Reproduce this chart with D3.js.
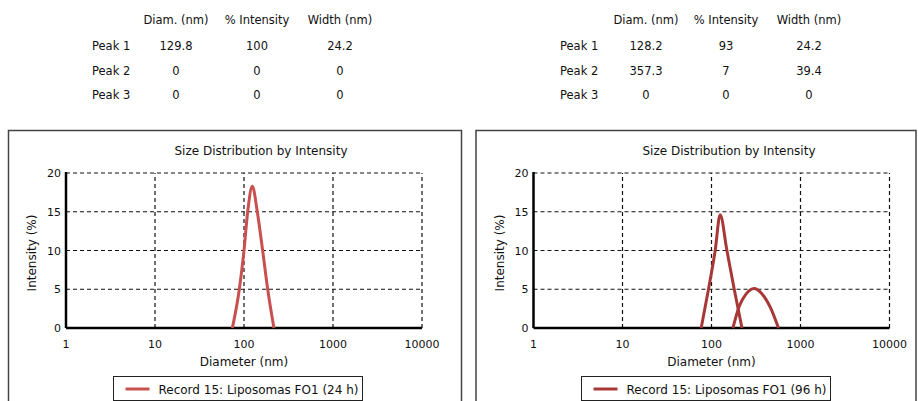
<!DOCTYPE html>
<meta charset="utf-8">
<style>
body { margin: 0; background: #fff; }
text { font-family: "DejaVu Sans", Verdana, sans-serif; fill: #111; }
</style>
<body>
<script src="https://d3js.org/d3.v7.min.js"></script>
<script>

var width = 918, height = 401;

// peak tables
var tableCols = ["Diam. (nm)", "% Intensity", "Width (nm)"];
var tableRows = ["Peak 1", "Peak 2", "Peak 3"];
var table24 = [["129.8", "100", "24.2"], ["0", "0", "0"], ["0", "0", "0"]];
var table96 = [["128.2", "93", "24.2"], ["357.3", "7", "39.4"], ["0", "0", "0"]];

// axis ticks
var xTicks = [1, 10, 100, 1000, 10000];
var yTicks = [0, 5, 10, 15, 20];

// curves: [diameter nm, intensity %]
var curve24 = [[74, 0], [88.6, 5], [100, 10], [110, 15], [124, 18.3], [141, 15], [162, 10], [184.6, 5], [217, 0]];
var curve96a = [[76.6, 0], [92.5, 5], [110, 10], [125, 14.6], [149, 10], [180, 5], [220, 0]];
var curve96b = [[174, 0], [205, 2.8], [245, 4.4], [301, 5.1], [370, 4.4], [457, 2.7], [566, 0]];

var legend24 = "Record 15: Liposomas FO1 (24 h)";
var legend96 = "Record 15: Liposomas FO1 (96 h)";

var svg = d3.select("body").append("svg")
    .attr("width", width)
    .attr("height", height);

function drawTable(x0, labelX, colX, rows) {
  var g = svg.append("g").style("font-size", "11.5px");
  tableCols.forEach(function(c, i) {
    g.append("text").attr("x", colX[i]).attr("y", 24)
      .attr("text-anchor", "middle").text(c);
  });
  tableRows.forEach(function(r, j) {
    var y = 50 + j * 24.5;
    g.append("text").attr("x", labelX).attr("y", y).text(r);
    rows[j].forEach(function(v, i) {
      g.append("text").attr("x", colX[i]).attr("y", y)
        .attr("text-anchor", "middle").text(v);
    });
  });
}

drawTable(0, 92, [176, 257, 340], table24);
drawTable(460, 560, [646, 726, 809], table96);

function drawPanel(opt) {
  // frame
  svg.append("rect")
    .attr("x", opt.bx).attr("y", 130.5)
    .attr("width", opt.bw).attr("height", 290)
    .attr("fill", "none").attr("stroke", "#444").attr("stroke-width", 1.5);

  var x = d3.scaleLog().domain([1, 10000]).range([opt.x0, opt.x1]);
  var y = d3.scaleLinear().domain([0, 20]).range([328, 173]);

  var g = svg.append("g");

  // dashed grid
  g.selectAll(".gy").data(yTicks.slice(1)).enter().append("line")
    .attr("x1", x(1)).attr("x2", x(10000))
    .attr("y1", function(d) { return y(d); }).attr("y2", function(d) { return y(d); })
    .attr("stroke", "#111").attr("stroke-width", 1.2).attr("stroke-dasharray", "4,3");
  g.selectAll(".gx").data(xTicks.slice(1)).enter().append("line")
    .attr("y1", y(0)).attr("y2", y(20))
    .attr("x1", function(d) { return x(d); }).attr("x2", function(d) { return x(d); })
    .attr("stroke", "#111").attr("stroke-width", 1.2).attr("stroke-dasharray", "4,3");

  // solid axes
  g.append("line").attr("x1", x(1)).attr("x2", x(10000)).attr("y1", y(0)).attr("y2", y(0))
    .attr("stroke", "#000").attr("stroke-width", 2.5);
  g.append("line").attr("x1", x(1)).attr("x2", x(1)).attr("y1", y(0)).attr("y2", y(20) - 1)
    .attr("stroke", "#000").attr("stroke-width", 2.5);

  // tick labels
  g.selectAll(".tx").data(xTicks).enter().append("text")
    .attr("x", function(d) { return x(d); }).attr("y", 348)
    .attr("text-anchor", "middle").style("font-size", "11px")
    .text(function(d) { return d; });
  g.selectAll(".ty").data(yTicks).enter().append("text")
    .attr("x", x(1) - 5).attr("y", function(d) { return y(d) + 4; })
    .attr("text-anchor", "end").style("font-size", "11px")
    .text(function(d) { return d; });

  // titles
  g.append("text").attr("x", opt.tx).attr("y", 155)
    .attr("text-anchor", "middle").style("font-size", "12px")
    .text("Size Distribution by Intensity");
  g.append("text").attr("x", x(100)).attr("y", 366)
    .attr("text-anchor", "middle").style("font-size", "12px")
    .text("Diameter (nm)");
  g.append("text")
    .attr("transform", "translate(" + (opt.x0 - 30) + "," + 253 + ") rotate(-90)")
    .attr("text-anchor", "middle").style("font-size", "12px")
    .text("Intensity (%)");

  // curves
  var line = d3.line()
    .x(function(d) { return x(d[0]); })
    .y(function(d) { return y(d[1]); })
    .curve(d3.curveMonotoneX);
  opt.curves.forEach(function(c) {
    g.append("path").attr("d", line(c))
      .attr("fill", "none").attr("stroke", opt.color)
      .attr("stroke-width", 3).attr("stroke-linejoin", "round");
  });

  // legend
  g.append("rect").attr("x", opt.lx).attr("y", 376.5)
    .attr("width", 249).attr("height", 24)
    .attr("fill", "#fff").attr("stroke", "#222").attr("stroke-width", 1);
  g.append("line").attr("x1", opt.lx + 12).attr("x2", opt.lx + 36)
    .attr("y1", 389).attr("y2", 389)
    .attr("stroke", opt.color).attr("stroke-width", 3);
  g.append("text").attr("x", opt.lx + 45).attr("y", 393.5)
    .style("font-size", "12px").text(opt.legend);
}

drawPanel({ bx: 8.5, bw: 453, x0: 66, x1: 422, tx: 261, lx: 113.5,
  color: "#c8504f", curves: [curve24], legend: legend24 });
drawPanel({ bx: 476, bw: 440, x0: 533.5, x1: 889.5, tx: 729, lx: 581.5,
  color: "#a83838", curves: [curve96a, curve96b], legend: legend96 });

</script>
</body>
